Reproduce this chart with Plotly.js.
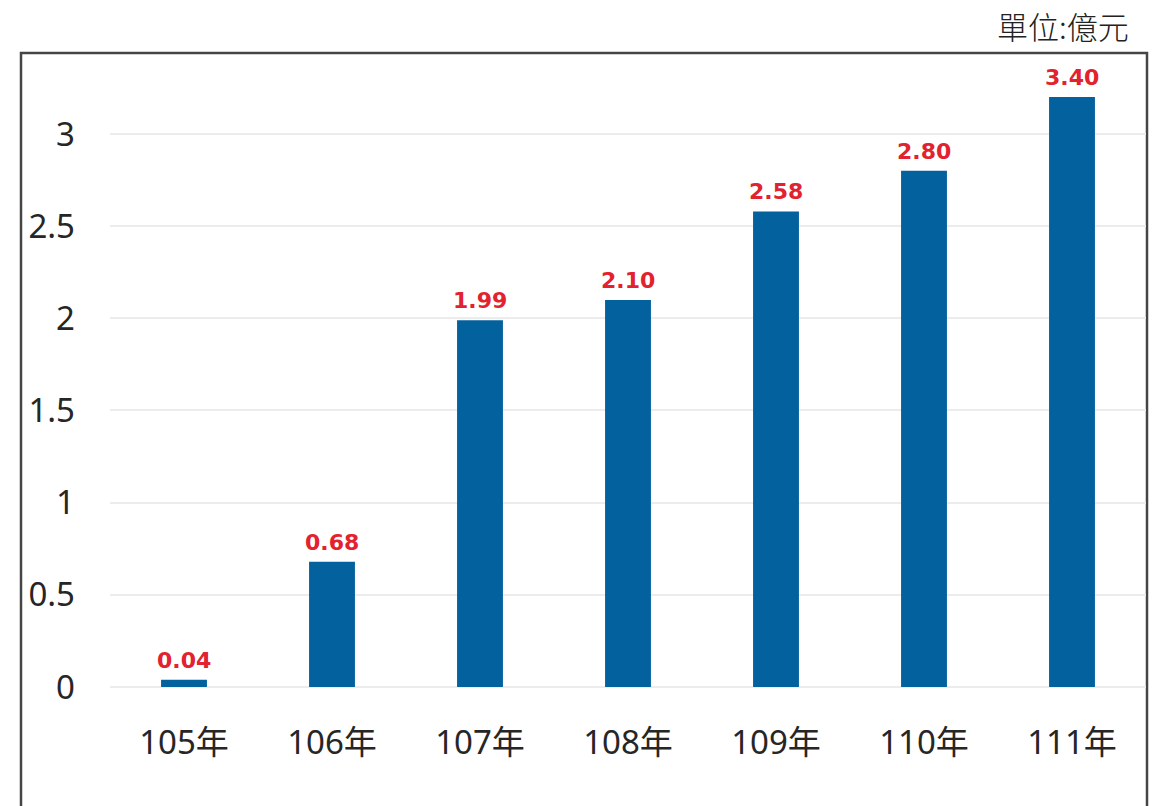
<!DOCTYPE html>
<html>
<head>
<meta charset="utf-8">
<script src="https://cdn.plot.ly/plotly-3.0.1.min.js"></script>
<style>html,body{margin:0;padding:0;background:#fff;}#chart{width:1156px;height:806px;}</style>
</head>
<body>
<div id="chart"></div>
<script>
const categories = ["105年", "106年", "107年", "108年", "109年", "110年", "111年"];
const values = [0.04, 0.68, 1.99, 2.10, 2.58, 2.80, 3.20];
const labels = ["0.04", "0.68", "1.99", "2.10", "2.58", "2.80", "3.40"];
const tickVals = [0, 0.5, 1, 1.5, 2, 2.5, 3];
const tickText = ["0", "0.5", "1", "1.5", "2", "2.5", "3"];
const unitText = "單位:億元";

const trace = {
  type: "bar",
  x: categories,
  y: values,
  marker: {color: "#03619e"},
  width: 0.31,
  hoverinfo: "none"
};

const labelAnnotations = categories.map((c, i) => ({
  x: c, y: values[i],
  xref: "x", yref: "y",
  text: labels[i],
  showarrow: false,
  xanchor: "center", yanchor: "bottom",
  yshift: 5,
  font: {family: "DejaVu Sans, sans-serif", size: 22, color: "#e2222e", weight: "bold"}
}));

const layout = {
  width: 1156,
  height: 806,
  margin: {l: 110, r: 10, t: 70, b: 119},
  paper_bgcolor: "#ffffff",
  plot_bgcolor: "#ffffff",
  showlegend: false,
  font: {family: "Noto Sans, Noto Sans CJK TC, sans-serif", color: "#333"},
  xaxis: {
    type: "category",
    showgrid: false,
    showline: false,
    ticks: "",
    ticklabelstandoff: 33,
    tickfont: {size: 33, color: "#262626", family: "Noto Sans, Noto Sans CJK TC, sans-serif"}
  },
  yaxis: {
    range: [0, 3.347],
    tickvals: tickVals,
    ticktext: tickText,
    showgrid: true,
    gridcolor: "#ececec",
    gridwidth: 2,
    zeroline: true,
    zerolinecolor: "#ececec",
    zerolinewidth: 2,
    showline: false,
    ticks: "",
    ticklabelstandoff: 34,
    tickfont: {size: 33, color: "#262626", family: "Noto Sans, Noto Sans CJK TC, sans-serif"}
  },
  shapes: [{
    type: "rect",
    xref: "paper", yref: "paper",
    x0: (21 - 110) / 1036, x1: (1147 - 110) / 1036,
    y0: -0.3, y1: (687 - 53) / 617,
    line: {color: "#454545", width: 2.5},
    fillcolor: "rgba(0,0,0,0)",
    layer: "below"
  }],
  annotations: [{
    text: unitText,
    xref: "paper", yref: "paper",
    x: (1131 - 110) / 1036, y: (687 - 25) / 617,
    xanchor: "right", yanchor: "middle",
    showarrow: false,
    font: {family: "Noto Sans CJK TC, sans-serif", size: 31, color: "#222", weight: 300}
  }].concat(labelAnnotations)
};

Plotly.newPlot("chart", [trace], layout, {displayModeBar: false, staticPlot: true});
</script>
</body>
</html>
